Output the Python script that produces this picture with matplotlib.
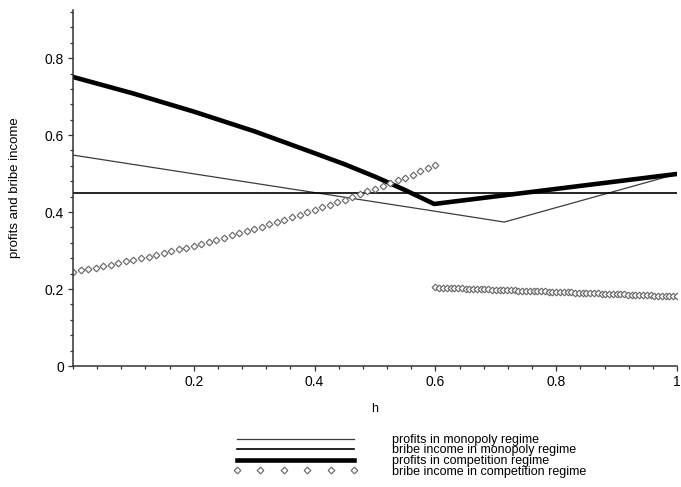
import matplotlib.pyplot as plt
from matplotlib.ticker import MultipleLocator, FixedLocator

plt.rcParams['font.family'] = ['Liberation Sans', 'DejaVu Sans']

# profits in monopoly regime (piecewise linear)
h_mono = [0.0, 0.6, 0.714, 1.0]
profit_mono = [0.548, 0.402, 0.374, 0.499]

# bribe income in monopoly regime (flat)
h_bribe_mono = [0.0, 1.0]
bribe_mono = [0.45, 0.45]

# profits in competition regime
h_comp = [0.0, 0.1, 0.2, 0.3, 0.4, 0.45, 0.5, 0.55, 0.598, 1.0]
profit_comp = [0.751, 0.708, 0.661, 0.610, 0.553, 0.524, 0.492, 0.457, 0.421, 0.499]

# bribe income in competition regime, first branch (h < 0.6)
h_bc1 = [0.0, 0.0125, 0.025, 0.0375, 0.05, 0.0625, 0.075, 0.0875, 0.1, 0.1125,
         0.125, 0.1375, 0.15, 0.1625, 0.175, 0.1875, 0.2, 0.2125, 0.225, 0.2375,
         0.25, 0.2625, 0.275, 0.2875, 0.3, 0.3125, 0.325, 0.3375, 0.35, 0.3625,
         0.375, 0.3875, 0.4, 0.4125, 0.425, 0.4375, 0.45, 0.4625, 0.475, 0.4875,
         0.5, 0.5125, 0.525, 0.5375, 0.55, 0.5625, 0.575, 0.5875, 0.6]
bribe_c1 = [0.245, 0.2485, 0.2521, 0.2558, 0.2596, 0.2635, 0.2675, 0.2716, 0.2758, 0.2801,
            0.2845, 0.2889, 0.2935, 0.2982, 0.3029, 0.3078, 0.3128, 0.3178, 0.3230, 0.3283,
            0.3336, 0.3391, 0.3446, 0.3503, 0.3560, 0.3618, 0.3678, 0.3738, 0.3799, 0.3862,
            0.3925, 0.3989, 0.4054, 0.4121, 0.4188, 0.4256, 0.4325, 0.4395, 0.4466, 0.4538,
            0.4600, 0.4670, 0.4745, 0.4820, 0.4895, 0.4975, 0.5055, 0.5140, 0.5230]

# second branch (h > 0.6)
h_bc2 = [0.6, 0.6062, 0.6125, 0.6188, 0.625, 0.6312, 0.6375, 0.6438, 0.65, 0.6562,
         0.6625, 0.6688, 0.675, 0.6812, 0.6875, 0.6938, 0.7, 0.7062, 0.7125, 0.7188,
         0.725, 0.7312, 0.7375, 0.7438, 0.75, 0.7562, 0.7625, 0.7688, 0.775, 0.7812,
         0.7875, 0.7938, 0.8, 0.8062, 0.8125, 0.8188, 0.825, 0.8312, 0.8375, 0.8438,
         0.85, 0.8562, 0.8625, 0.8688, 0.875, 0.8812, 0.8875, 0.8938, 0.9, 0.9062,
         0.9125, 0.9188, 0.925, 0.9312, 0.9375, 0.9438, 0.95, 0.9562, 0.9625, 0.9688,
         0.975, 0.9812, 0.9875, 0.9938, 1.0]
bribe_c2 = [0.2040, 0.2036, 0.2033, 0.2029, 0.2026, 0.2022, 0.2018, 0.2015, 0.2011, 0.2008,
            0.2004, 0.2000, 0.1997, 0.1993, 0.1990, 0.1986, 0.1982, 0.1979, 0.1975, 0.1972,
            0.1968, 0.1964, 0.1961, 0.1957, 0.1954, 0.1950, 0.1946, 0.1943, 0.1939, 0.1936,
            0.1932, 0.1928, 0.1925, 0.1921, 0.1918, 0.1914, 0.1910, 0.1907, 0.1903, 0.1900,
            0.1896, 0.1892, 0.1889, 0.1885, 0.1882, 0.1878, 0.1874, 0.1871, 0.1867, 0.1864,
            0.1860, 0.1856, 0.1853, 0.1849, 0.1846, 0.1842, 0.1838, 0.1835, 0.1831, 0.1828,
            0.1824, 0.1820, 0.1817, 0.1813, 0.1810]

x_ticks = [0.2, 0.4, 0.6, 0.8, 1.0]
x_ticklabels = ['0.2', '0.4', '0.6', '0.8', '1']
y_ticks = [0.0, 0.2, 0.4, 0.6, 0.8]
y_ticklabels = ['0', '0.2', '0.4', '0.6', '0.8']

fig = plt.figure(figsize=(6.81, 4.87), dpi=100)
ax = fig.add_axes([73 / 681, 121 / 487, 604 / 681, 356 / 487])

l1, = ax.plot(h_mono, profit_mono, color='#3c3c3c', lw=0.9,
              label='profits in monopoly regime')
l2, = ax.plot(h_bribe_mono, bribe_mono, color='black', lw=1.2,
              label='bribe income in monopoly regime')
l3, = ax.plot(h_comp, profit_comp, color='black', lw=3.3,
              label='profits in competition regime')
mk = dict(ls='none', marker='D', ms=3.4, mew=0.85, mec='#6a6a6a', mfc='white')
l4, = ax.plot(h_bc1, bribe_c1, label='bribe income in competition regime', **mk)
ax.plot(h_bc2, bribe_c2, **mk)

ax.set_xlim(0, 1)
ax.set_ylim(0, 0.925)
for s in ['top', 'right']:
    ax.spines[s].set_visible(False)
for s in ['left', 'bottom']:
    ax.spines[s].set_color('#333333')
    ax.spines[s].set_linewidth(1.1)

ax.xaxis.set_major_locator(FixedLocator(x_ticks))
ax.set_xticklabels(x_ticklabels)
ax.yaxis.set_major_locator(FixedLocator(y_ticks))
ax.set_yticklabels(y_ticklabels)
ax.xaxis.set_minor_locator(MultipleLocator(0.04))
ax.yaxis.set_minor_locator(MultipleLocator(0.04))
ax.tick_params(which='major', direction='out', length=3.5, width=0.9, color='#333333',
               labelsize=10, pad=3)
ax.tick_params(which='minor', direction='out', length=2.2, width=0.9, color='#333333')

ax.set_xlabel('h', fontsize=9, labelpad=10)
ax.set_ylabel('profits and bribe income', fontsize=9.5, labelpad=17)

leg = fig.legend(handles=[l1, l2, l3, l4], loc='upper left',
                 bbox_to_anchor=(233 / 681, 1 - 434 / 487), frameon=False,
                 fontsize=9, handlelength=10.0, handletextpad=2.7,
                 labelspacing=-0.12, borderpad=0, borderaxespad=0, numpoints=6)

fig.savefig('out.png', dpi=100)
